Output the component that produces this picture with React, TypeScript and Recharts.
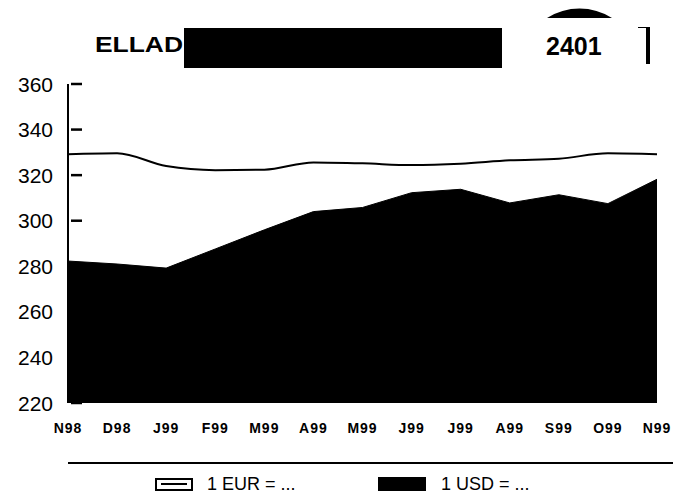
import { AreaChart, Area, XAxis, YAxis, Legend } from "recharts";

const months = ["N98", "D98", "J99", "F99", "M99", "A99", "M99", "J99", "J99", "A99", "S99", "O99", "N99"];
const eur = [329.2, 329.6, 324.0, 322.2, 322.4, 325.6, 325.2, 324.4, 325.0, 326.5, 327.2, 329.6, 329.2];
const usd = [282.3, 281.0, 279.2, 287.6, 296.0, 304.0, 305.8, 312.3, 313.8, 307.8, 311.4, 307.5, 318.2];
const yTicks = [220, 240, 260, 280, 300, 320, 340, 360];

const data = months.map((m, i) => ({ month: m, eur: eur[i], usd: usd[i] }));

const FONT = "'Liberation Sans', Arial, sans-serif";

// inward tick marks like the original print
const YTick = (props: any) => {
    const { x, y, payload } = props;
    return (
        <g>
            <path d={`M${x + 19},${y}H${x + 30}`} stroke="#000" strokeWidth={2.5} />
            <text x={x + 1} y={y} textAnchor="end" dominantBaseline="central" fontSize={21} fontFamily={FONT} fill="#000">
                {payload.value}
            </text>
        </g>
    );
};

const LegendBox = () => (
    <div style={{ position: "relative", width: 673, height: 60, fontFamily: FONT }}>
        <div style={{ position: "absolute", left: 68, top: 22, width: 605, height: 2, background: "#000" }} />
        <div style={{ position: "absolute", left: 155, top: 38, width: 34, height: 9, border: "2px solid #000" }}>
            <div style={{ position: "absolute", left: 4, right: 4, top: 3, height: 2, background: "#000" }} />
        </div>
        <div style={{ position: "absolute", left: 207, top: 33, fontSize: 18, lineHeight: "22px" }}>1 EUR = ...</div>
        <div style={{ position: "absolute", left: 378, top: 37, width: 48, height: 14, background: "#000" }} />
        <div style={{ position: "absolute", left: 441, top: 33, fontSize: 18, lineHeight: "22px" }}>1 USD = ...</div>
    </div>
);

export default function App() {
    return (
        <div style={{ position: "absolute", left: 0, top: 0, width: 673, height: 500, background: "#fff", fontFamily: FONT }}>
            <AreaChart width={673} height={500} data={data} margin={{ top: 84, right: 16, left: 0, bottom: 0 }}>
                <Legend verticalAlign="bottom" height={60} wrapperStyle={{ left: 0, width: 673 }} content={() => <LegendBox />} />
                <Area dataKey="eur" type="monotone" stroke="#000" strokeWidth={2} fill="#fff" fillOpacity={1} isAnimationActive={false} />
                <Area dataKey="usd" type="linear" stroke="#000" strokeWidth={1} fill="#000" fillOpacity={1} isAnimationActive={false} />
                <XAxis
                    dataKey="month"
                    interval={0}
                    tickSize={0}
                    tickMargin={20}
                    axisLine={false}
                    height={37}
                    tick={{ fontSize: 14, fontWeight: 700, fill: "#000", fontFamily: FONT, letterSpacing: 1 }}
                />
                <YAxis
                    domain={[220, 360]}
                    ticks={yTicks}
                    interval={0}
                    width={68}
                    tickSize={0}
                    tickMargin={16}
                    tickLine={false}
                    axisLine={{ stroke: "#000", strokeWidth: 2 }}
                    tick={<YTick />}
                    allowDataOverflow
                />
            </AreaChart>
            <div style={{ position: "absolute", left: 95, top: 31, fontSize: 22, fontWeight: 700, lineHeight: "28px", transform: "scaleX(1.2)", transformOrigin: "left center" }}>ELLAD</div>
            <div style={{ position: "absolute", left: 184, top: 28, width: 318, height: 40, background: "#000" }} />
            <div style={{ position: "absolute", left: 546, top: 31, fontSize: 25, fontWeight: 700, lineHeight: "30px" }}>2401</div>
            <div style={{ position: "absolute", left: 638, top: 27, width: 12, height: 1, background: "#000" }} />
            <div style={{ position: "absolute", left: 646, top: 27, width: 4, height: 37, background: "#000" }} />
            <svg style={{ position: "absolute", left: 0, top: 0 }} width={673} height={30}>
                <path d="M547,18 A60,60 0 0 1 612,18 Z" fill="#000" />
            </svg>
        </div>
    );
}
